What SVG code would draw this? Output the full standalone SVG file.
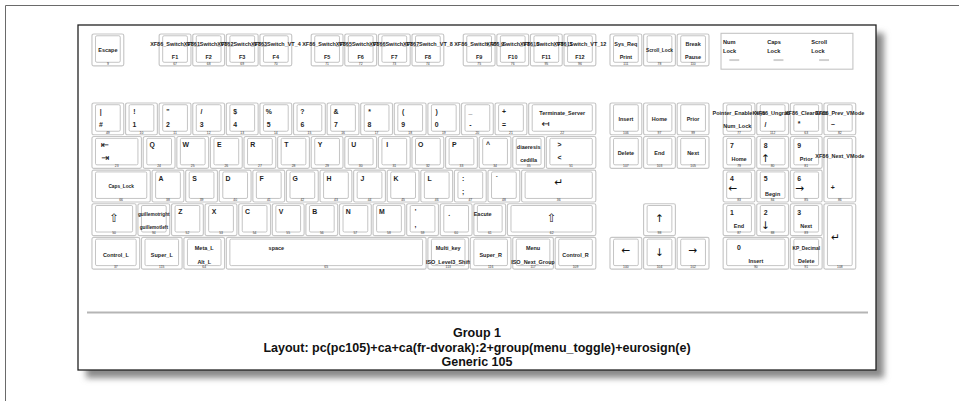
<svg xmlns="http://www.w3.org/2000/svg" width="959" height="401" viewBox="0 0 959 401">
<defs>
<style>
.o{fill:none;stroke:#c6c6c6;stroke-width:.65}
.i{fill:none;stroke:#b4b4b4;stroke-width:.45}
.lp{fill:none;stroke:#c2c2c2;stroke-width:.6}
.led{fill:#cfcfcf}
text{font-family:"Liberation Sans",Arial,sans-serif;font-weight:bold;fill:#1e1e1e}
.c{font-size:3.9px;text-anchor:middle}
.n{font-size:3.1px;text-anchor:middle}
.s{font-size:2.7px;text-anchor:middle}
.k{font-size:1.9px;text-anchor:middle;fill:#333;font-weight:normal}
.a{font-family:"DejaVu Sans",sans-serif;font-size:6px;font-weight:normal;text-anchor:middle;fill:#111}
.g{font-family:"DejaVu Sans",sans-serif;font-weight:normal;text-anchor:middle;fill:#111}
.l{font-size:3.2px}
.cap{font-size:12.5px;text-anchor:middle;fill:#111}
</style>
<filter id="sh" x="-5%" y="-5%" width="110%" height="110%"><feGaussianBlur stdDeviation="3"/></filter>
<g id="N"><rect class="o" width="18" height="18" rx="1"/><rect class="i" x="2" y="1" width="14" height="15" rx=".8"/></g>
<g id="BKSP"><rect class="o" width="38" height="18" rx="1"/><rect class="i" x="2" y="1" width="34" height="15" rx=".8"/></g>
<g id="TABK"><rect class="o" width="28" height="18" rx="1"/><rect class="i" x="2" y="1" width="24" height="15" rx=".8"/></g>
<g id="CAPS"><rect class="o" width="33" height="18" rx="1"/><rect class="i" x="2" y="1" width="29" height="15" rx=".8"/></g>
<g id="RTRN"><rect class="o" width="42" height="18" rx="1"/><rect class="i" x="2" y="1" width="38" height="15" rx=".8"/></g>
<g id="LFSH"><rect class="o" width="25" height="18" rx="1"/><rect class="i" x="2" y="1" width="21" height="15" rx=".8"/></g>
<g id="RTSH"><rect class="o" width="50" height="18" rx="1"/><rect class="i" x="2" y="1" width="46" height="15" rx=".8"/></g>
<g id="MODK"><rect class="o" width="27" height="18" rx="1"/><rect class="i" x="2" y="1" width="23" height="15" rx=".8"/></g>
<g id="SMOD"><rect class="o" width="23" height="18" rx="1"/><rect class="i" x="2" y="1" width="19" height="15" rx=".8"/></g>
<g id="SPCE"><rect class="o" width="113" height="18" rx="1"/><rect class="i" x="2" y="1" width="109" height="15" rx=".8"/></g>
<g id="KP0"><rect class="o" width="37" height="18" rx="1"/><rect class="i" x="2" y="1" width="33" height="15" rx=".8"/></g>
<g id="KPAD"><rect class="o" width="18" height="37" rx="1"/><rect class="i" x="2" y="1" width="14" height="34" rx=".8"/></g>
</defs>
<rect width="959" height="401" fill="#fff"/>
<path d="M5.5 401V5.5H959" fill="none" stroke="#6a6a6a" stroke-width="1"/>
<g id="frame">
<rect x="86" y="33" width="798" height="345" fill="#8a8a8a" filter="url(#sh)"/>
<rect x="78" y="25" width="798" height="345" fill="#fff" stroke="#222" stroke-width="1.3"/>
<line x1="87" y1="312.5" x2="868" y2="312.5" stroke="#b5b5b5" stroke-width="2"/>
</g>
<g id="keyboard" transform="translate(56.6 -59.7) scale(1.768)">
<g id="connectors"/>
<g id="k-ESC" transform="translate(20 53)"><use href="#N"/><text class="n" x="9" y="10.2">Escape</text><text class="k" x="9" y="17.3">9</text></g>
<g id="k-FK01" transform="translate(58 53)"><use href="#N"/><text class="n" x="9" y="6.8">XF86_Switch_VT_1</text><text class="n" x="9" y="14.3">F1</text><text class="k" x="9" y="17.3">67</text></g>
<g id="k-FK02" transform="translate(77 53)"><use href="#N"/><text class="n" x="9" y="6.8">XF86_Switch_VT_2</text><text class="n" x="9" y="14.3">F2</text><text class="k" x="9" y="17.3">68</text></g>
<g id="k-FK03" transform="translate(96 53)"><use href="#N"/><text class="n" x="9" y="6.8">XF86_Switch_VT_3</text><text class="n" x="9" y="14.3">F3</text><text class="k" x="9" y="17.3">69</text></g>
<g id="k-FK04" transform="translate(115 53)"><use href="#N"/><text class="n" x="9" y="6.8">XF86_Switch_VT_4</text><text class="n" x="9" y="14.3">F4</text><text class="k" x="9" y="17.3">70</text></g>
<g id="k-FK05" transform="translate(144 53)"><use href="#N"/><text class="n" x="9" y="6.8">XF86_Switch_VT_5</text><text class="n" x="9" y="14.3">F5</text><text class="k" x="9" y="17.3">71</text></g>
<g id="k-FK06" transform="translate(163 53)"><use href="#N"/><text class="n" x="9" y="6.8">XF86_Switch_VT_6</text><text class="n" x="9" y="14.3">F6</text><text class="k" x="9" y="17.3">72</text></g>
<g id="k-FK07" transform="translate(182 53)"><use href="#N"/><text class="n" x="9" y="6.8">XF86_Switch_VT_7</text><text class="n" x="9" y="14.3">F7</text><text class="k" x="9" y="17.3">73</text></g>
<g id="k-FK08" transform="translate(201 53)"><use href="#N"/><text class="n" x="9" y="6.8">XF86_Switch_VT_8</text><text class="n" x="9" y="14.3">F8</text><text class="k" x="9" y="17.3">74</text></g>
<g id="k-FK09" transform="translate(230 53)"><use href="#N"/><text class="n" x="9" y="6.8">XF86_Switch_VT_9</text><text class="n" x="9" y="14.3">F9</text><text class="k" x="9" y="17.3">75</text></g>
<g id="k-FK10" transform="translate(249 53)"><use href="#N"/><text class="n" x="9" y="6.8">XF86_Switch_VT_10</text><text class="n" x="9" y="14.3">F10</text><text class="k" x="9" y="17.3">76</text></g>
<g id="k-FK11" transform="translate(268 53)"><use href="#N"/><text class="n" x="9" y="6.8">XF86_Switch_VT_11</text><text class="n" x="9" y="14.3">F11</text><text class="k" x="9" y="17.3">95</text></g>
<g id="k-FK12" transform="translate(287 53)"><use href="#N"/><text class="n" x="9" y="6.8">XF86_Switch_VT_12</text><text class="n" x="9" y="14.3">F12</text><text class="k" x="9" y="17.3">96</text></g>
<g id="k-PRSC" transform="translate(313 53)"><use href="#N"/><text class="n" x="9" y="6.8">Sys_Req</text><text class="n" x="9" y="14.3">Print</text><text class="k" x="9" y="17.3">111</text></g>
<g id="k-SCLK" transform="translate(332 53)"><use href="#N"/><text class="s" x="9" y="10.2">Scroll_Lock</text><text class="k" x="9" y="17.3">78</text></g>
<g id="k-PAUS" transform="translate(351 53)"><use href="#N"/><text class="n" x="9" y="6.8">Break</text><text class="n" x="9" y="14.3">Pause</text><text class="k" x="9" y="17.3">110</text></g>
<g id="leds">
<rect class="lp" x="375.8" y="52.6" width="74.6" height="20.3"/>
<text class="l" x="376.9" y="58.6">Num</text><text class="l" x="376.9" y="63.8">Lock</text>
<text class="l" x="401.9" y="58.6">Caps</text><text class="l" x="401.9" y="63.8">Lock</text>
<text class="l" x="426.9" y="58.6">Scroll</text><text class="l" x="426.9" y="63.8">Lock</text>
<rect class="led" x="380.5" y="67.2" width="5.6" height="1.1"/>
<rect class="led" x="405.5" y="67.2" width="5.6" height="1.1"/>
<rect class="led" x="431.3" y="67.2" width="5.6" height="1.1"/>
</g>
<g id="k-TLDE" transform="translate(20 92)"><use href="#N"/><text class="c" x="5" y="6">|</text><text class="c" x="5" y="13.4">#</text><text class="k" x="9" y="17.3">49</text></g>
<g id="k-AE01" transform="translate(39 92)"><use href="#N"/><text class="c" x="5" y="6">!</text><text class="c" x="5" y="13.4">1</text><text class="k" x="9" y="17.3">10</text></g>
<g id="k-AE02" transform="translate(58 92)"><use href="#N"/><text class="c" x="5" y="6">"</text><text class="c" x="5" y="13.4">2</text><text class="k" x="9" y="17.3">11</text></g>
<g id="k-AE03" transform="translate(77 92)"><use href="#N"/><text class="c" x="5" y="6">/</text><text class="c" x="5" y="13.4">3</text><text class="k" x="9" y="17.3">12</text></g>
<g id="k-AE04" transform="translate(96 92)"><use href="#N"/><text class="c" x="5" y="6">$</text><text class="c" x="5" y="13.4">4</text><text class="k" x="9" y="17.3">13</text></g>
<g id="k-AE05" transform="translate(115 92)"><use href="#N"/><text class="c" x="5" y="6">%</text><text class="c" x="5" y="13.4">5</text><text class="k" x="9" y="17.3">14</text></g>
<g id="k-AE06" transform="translate(134 92)"><use href="#N"/><text class="c" x="5" y="6">?</text><text class="c" x="5" y="13.4">6</text><text class="k" x="9" y="17.3">15</text></g>
<g id="k-AE07" transform="translate(153 92)"><use href="#N"/><text class="c" x="5" y="6">&amp;</text><text class="c" x="5" y="13.4">7</text><text class="k" x="9" y="17.3">16</text></g>
<g id="k-AE08" transform="translate(172 92)"><use href="#N"/><text class="c" x="5" y="6">*</text><text class="c" x="5" y="13.4">8</text><text class="k" x="9" y="17.3">17</text></g>
<g id="k-AE09" transform="translate(191 92)"><use href="#N"/><text class="c" x="5" y="6">(</text><text class="c" x="5" y="13.4">9</text><text class="k" x="9" y="17.3">18</text></g>
<g id="k-AE10" transform="translate(210 92)"><use href="#N"/><text class="c" x="5" y="6">)</text><text class="c" x="5" y="13.4">0</text><text class="k" x="9" y="17.3">19</text></g>
<g id="k-AE11" transform="translate(229 92)"><use href="#N"/><text class="c" x="5" y="6">_</text><text class="c" x="5" y="13.4">-</text><text class="k" x="9" y="17.3">20</text></g>
<g id="k-AE12" transform="translate(248 92)"><use href="#N"/><text class="c" x="5" y="6">+</text><text class="c" x="5" y="13.4">=</text><text class="k" x="9" y="17.3">21</text></g>
<g id="k-BKSP" transform="translate(267 92)"><use href="#BKSP"/><text class="n" x="19" y="6.8">Terminate_Server</text><text class="g" font-size="5.5" x="9.5" y="13.6">↤</text><text class="k" x="19" y="17.3">22</text></g>
<g id="k-TAB" transform="translate(20 111)"><use href="#TABK"/><text class="g" font-size="5.5" x="7.4" y="6.2">⇤</text><text class="g" font-size="5.5" x="7.4" y="13.6">⇥</text><text class="k" x="14" y="17.3">23</text></g>
<g id="k-AD01" transform="translate(49 111)"><use href="#N"/><text class="c" x="5" y="6">Q</text><text class="k" x="9" y="17.3">24</text></g>
<g id="k-AD02" transform="translate(68 111)"><use href="#N"/><text class="c" x="5" y="6">W</text><text class="k" x="9" y="17.3">25</text></g>
<g id="k-AD03" transform="translate(87 111)"><use href="#N"/><text class="c" x="5" y="6">E</text><text class="k" x="9" y="17.3">26</text></g>
<g id="k-AD04" transform="translate(106 111)"><use href="#N"/><text class="c" x="5" y="6">R</text><text class="k" x="9" y="17.3">27</text></g>
<g id="k-AD05" transform="translate(125 111)"><use href="#N"/><text class="c" x="5" y="6">T</text><text class="k" x="9" y="17.3">28</text></g>
<g id="k-AD06" transform="translate(144 111)"><use href="#N"/><text class="c" x="5" y="6">Y</text><text class="k" x="9" y="17.3">29</text></g>
<g id="k-AD07" transform="translate(163 111)"><use href="#N"/><text class="c" x="5" y="6">U</text><text class="k" x="9" y="17.3">30</text></g>
<g id="k-AD08" transform="translate(182 111)"><use href="#N"/><text class="c" x="5" y="6">I</text><text class="k" x="9" y="17.3">31</text></g>
<g id="k-AD09" transform="translate(201 111)"><use href="#N"/><text class="c" x="5" y="6">O</text><text class="k" x="9" y="17.3">32</text></g>
<g id="k-AD10" transform="translate(220 111)"><use href="#N"/><text class="c" x="5" y="6">P</text><text class="k" x="9" y="17.3">33</text></g>
<g id="k-AD11" transform="translate(239 111)"><use href="#N"/><text class="c" x="5" y="6">^</text><text class="k" x="9" y="17.3">34</text></g>
<g id="k-AD12" transform="translate(258 111)"><use href="#N"/><text class="n" x="9" y="6.8">diaeresis</text><text class="n" x="9" y="14.3">cedilla</text><text class="k" x="9" y="17.3">35</text></g>
<g id="k-BKSL" transform="translate(277 111)"><use href="#TABK"/><text class="c" x="7.4" y="6">&gt;</text><text class="c" x="7.4" y="13.4">&lt;</text><text class="k" x="14" y="17.3">51</text></g>
<g id="k-CAPS" transform="translate(20 130)"><use href="#CAPS"/><text class="s" x="16.5" y="10">Caps_Lock</text><text class="k" x="16.5" y="17.3">66</text></g>
<g id="k-AC01" transform="translate(54 130)"><use href="#N"/><text class="c" x="5" y="6">A</text><text class="k" x="9" y="17.3">38</text></g>
<g id="k-AC02" transform="translate(73 130)"><use href="#N"/><text class="c" x="5" y="6">S</text><text class="k" x="9" y="17.3">39</text></g>
<g id="k-AC03" transform="translate(92 130)"><use href="#N"/><text class="c" x="5" y="6">D</text><text class="k" x="9" y="17.3">40</text></g>
<g id="k-AC04" transform="translate(111 130)"><use href="#N"/><text class="c" x="5" y="6">F</text><text class="k" x="9" y="17.3">41</text></g>
<g id="k-AC05" transform="translate(130 130)"><use href="#N"/><text class="c" x="5" y="6">G</text><text class="k" x="9" y="17.3">42</text></g>
<g id="k-AC06" transform="translate(149 130)"><use href="#N"/><text class="c" x="5" y="6">H</text><text class="k" x="9" y="17.3">43</text></g>
<g id="k-AC07" transform="translate(168 130)"><use href="#N"/><text class="c" x="5" y="6">J</text><text class="k" x="9" y="17.3">44</text></g>
<g id="k-AC08" transform="translate(187 130)"><use href="#N"/><text class="c" x="5" y="6">K</text><text class="k" x="9" y="17.3">45</text></g>
<g id="k-AC09" transform="translate(206 130)"><use href="#N"/><text class="c" x="5" y="6">L</text><text class="k" x="9" y="17.3">46</text></g>
<g id="k-AC10" transform="translate(225 130)"><use href="#N"/><text class="c" x="5" y="6">:</text><text class="c" x="5" y="13.4">;</text><text class="k" x="9" y="17.3">47</text></g>
<g id="k-AC11" transform="translate(244 130)"><use href="#N"/><text class="c" x="5" y="6">`</text><text class="k" x="9" y="17.3">48</text></g>
<g id="k-RTRN" transform="translate(263 130)"><use href="#RTRN"/><text class="g" font-size="6" x="21" y="9.2">↵</text><text class="k" x="21" y="17.3">36</text></g>
<g id="k-LFSH" transform="translate(20 149)"><use href="#LFSH"/><text class="g" font-size="6.5" x="12.5" y="10.4">⇧</text><text class="k" x="12.5" y="17.3">50</text></g>
<g id="k-LSGT" transform="translate(46 149)"><use href="#N"/><text class="s" x="9" y="6.8">guillemotright</text><text class="s" x="9" y="14.3">guillemotleft</text><text class="k" x="9" y="17.3">94</text></g>
<g id="k-AB01" transform="translate(65 149)"><use href="#N"/><text class="c" x="5" y="6">Z</text><text class="k" x="9" y="17.3">52</text></g>
<g id="k-AB02" transform="translate(84 149)"><use href="#N"/><text class="c" x="5" y="6">X</text><text class="k" x="9" y="17.3">53</text></g>
<g id="k-AB03" transform="translate(103 149)"><use href="#N"/><text class="c" x="5" y="6">C</text><text class="k" x="9" y="17.3">54</text></g>
<g id="k-AB04" transform="translate(122 149)"><use href="#N"/><text class="c" x="5" y="6">V</text><text class="k" x="9" y="17.3">55</text></g>
<g id="k-AB05" transform="translate(141 149)"><use href="#N"/><text class="c" x="5" y="6">B</text><text class="k" x="9" y="17.3">56</text></g>
<g id="k-AB06" transform="translate(160 149)"><use href="#N"/><text class="c" x="5" y="6">N</text><text class="k" x="9" y="17.3">57</text></g>
<g id="k-AB07" transform="translate(179 149)"><use href="#N"/><text class="c" x="5" y="6">M</text><text class="k" x="9" y="17.3">58</text></g>
<g id="k-AB08" transform="translate(198 149)"><use href="#N"/><text class="c" x="5" y="6">'</text><text class="c" x="5" y="13.4">,</text><text class="k" x="9" y="17.3">59</text></g>
<g id="k-AB09" transform="translate(217 149)"><use href="#N"/><text class="c" x="5" y="7">.</text><text class="k" x="9" y="17.3">60</text></g>
<g id="k-AB10" transform="translate(236 149)"><use href="#N"/><text class="n" x="5" y="6.8">Eacute</text><text class="k" x="9" y="17.3">61</text></g>
<g id="k-RTSH" transform="translate(255 149)"><use href="#RTSH"/><text class="g" font-size="6.5" x="25" y="10.4">⇧</text><text class="k" x="25" y="17.3">62</text></g>
<g id="k-LCTL" transform="translate(20 168)"><use href="#MODK"/><text class="n" x="13.5" y="11">Control_L</text><text class="k" x="13.5" y="17.3">37</text></g>
<g id="k-LWIN" transform="translate(48 168)"><use href="#SMOD"/><text class="n" x="11.5" y="11">Super_L</text><text class="k" x="11.5" y="17.3">115</text></g>
<g id="k-LALT" transform="translate(72 168)"><use href="#SMOD"/><text class="n" x="11.5" y="7.2">Meta_L</text><text class="n" x="11.5" y="15">Alt_L</text><text class="k" x="11.5" y="17.3">64</text></g>
<g id="k-SPCE" transform="translate(96 168)"><use href="#SPCE"/><text class="n" x="28.3" y="7.2">space</text><text class="k" x="56.5" y="17.3">65</text></g>
<g id="k-RALT" transform="translate(210 168)"><use href="#SMOD"/><text class="n" x="11.5" y="7.2">Multi_key</text><text class="n" x="11.5" y="15">ISO_Level3_Shift</text><text class="k" x="11.5" y="17.3">113</text></g>
<g id="k-RWIN" transform="translate(234 168)"><use href="#SMOD"/><text class="n" x="11.5" y="11">Super_R</text><text class="k" x="11.5" y="17.3">116</text></g>
<g id="k-MENU" transform="translate(258 168)"><use href="#SMOD"/><text class="n" x="11.5" y="7.2">Menu</text><text class="n" x="11.5" y="15">ISO_Next_Group</text><text class="k" x="11.5" y="17.3">117</text></g>
<g id="k-RCTL" transform="translate(282 168)"><use href="#SMOD"/><text class="n" x="11.5" y="11">Control_R</text><text class="k" x="11.5" y="17.3">109</text></g>
<g id="k-INS" transform="translate(313 92)"><use href="#N"/><text class="n" x="9" y="10.2">Insert</text><text class="k" x="9" y="17.3">106</text></g>
<g id="k-HOME" transform="translate(332 92)"><use href="#N"/><text class="n" x="9" y="10.2">Home</text><text class="k" x="9" y="17.3">97</text></g>
<g id="k-PGUP" transform="translate(351 92)"><use href="#N"/><text class="n" x="9" y="10.2">Prior</text><text class="k" x="9" y="17.3">99</text></g>
<g id="k-DELE" transform="translate(313 111)"><use href="#N"/><text class="n" x="9" y="10.2">Delete</text><text class="k" x="9" y="17.3">107</text></g>
<g id="k-END" transform="translate(332 111)"><use href="#N"/><text class="n" x="9" y="10.2">End</text><text class="k" x="9" y="17.3">103</text></g>
<g id="k-PGDN" transform="translate(351 111)"><use href="#N"/><text class="n" x="9" y="10.2">Next</text><text class="k" x="9" y="17.3">105</text></g>
<g id="k-UP" transform="translate(332 149)"><use href="#N"/><text class="a" x="9" y="10.4">↑</text><text class="k" x="9" y="17.3">98</text></g>
<g id="k-LEFT" transform="translate(313 168)"><use href="#N"/><text class="a" x="9" y="9.4">←</text><text class="k" x="9" y="17.3">100</text></g>
<g id="k-DOWN" transform="translate(332 168)"><use href="#N"/><text class="a" x="9" y="10.4">↓</text><text class="k" x="9" y="17.3">104</text></g>
<g id="k-RGHT" transform="translate(351 168)"><use href="#N"/><text class="a" x="9" y="9.4">→</text><text class="k" x="9" y="17.3">102</text></g>
<g id="k-NMLK" transform="translate(377 92)"><use href="#N"/><text class="n" x="9" y="6.8">Pointer_EnableKeys</text><text class="n" x="8" y="14.3">Num_Lock</text><text class="k" x="9" y="17.3">77</text></g>
<g id="k-KPDV" transform="translate(396 92)"><use href="#N"/><text class="n" x="9" y="6.8">XF86_Ungrab</text><text class="c" x="5" y="13.6">/</text><text class="k" x="9" y="17.3">112</text></g>
<g id="k-KPMU" transform="translate(415 92)"><use href="#N"/><text class="n" x="9" y="6.8">XF86_ClearGrab</text><text class="c" x="5" y="13.2">*</text><text class="k" x="9" y="17.3">63</text></g>
<g id="k-KPSU" transform="translate(434 92)"><use href="#N"/><text class="n" x="9" y="6.8">XF86_Prev_VMode</text><text class="c" x="5" y="13.6">−</text><text class="k" x="9" y="17.3">82</text></g>
<g id="k-KP7" transform="translate(377 111)"><use href="#N"/><text class="c" x="5" y="6.2">7</text><text class="n" x="9" y="13.8">Home</text><text class="k" x="9" y="17.3">79</text></g>
<g id="k-KP8" transform="translate(396 111)"><use href="#N"/><text class="c" x="5" y="6.2">8</text><text class="a" x="5" y="14.5">↑</text><text class="k" x="9" y="17.3">80</text></g>
<g id="k-KP9" transform="translate(415 111)"><use href="#N"/><text class="c" x="5" y="6.2">9</text><text class="n" x="9" y="13.8">Prior</text><text class="k" x="9" y="17.3">81</text></g>
<g id="k-KPAD" transform="translate(434 111)"><use href="#KPAD"/><text class="n" x="9" y="12.4">XF86_Next_VMode</text><text class="c" x="5" y="30.2">+</text><text class="k" x="9" y="36.3">86</text></g>
<g id="k-KP4" transform="translate(377 130)"><use href="#N"/><text class="c" x="5" y="6.2">4</text><text class="a" x="5.5" y="12.4">←</text><text class="k" x="9" y="17.3">83</text></g>
<g id="k-KP5" transform="translate(396 130)"><use href="#N"/><text class="c" x="5" y="6.2">5</text><text class="n" x="9" y="14.5">Begin</text><text class="k" x="9" y="17.3">84</text></g>
<g id="k-KP6" transform="translate(415 130)"><use href="#N"/><text class="c" x="5" y="6.2">6</text><text class="a" x="5.5" y="12.4">→</text><text class="k" x="9" y="17.3">85</text></g>
<g id="k-KP1" transform="translate(377 149)"><use href="#N"/><text class="c" x="5" y="6.6">1</text><text class="n" x="9" y="14">End</text><text class="k" x="9" y="17.3">87</text></g>
<g id="k-KP2" transform="translate(396 149)"><use href="#N"/><text class="c" x="5" y="6.6">2</text><text class="a" x="5" y="14.5">↓</text><text class="k" x="9" y="17.3">88</text></g>
<g id="k-KP3" transform="translate(415 149)"><use href="#N"/><text class="c" x="5" y="6.6">3</text><text class="n" x="9" y="14">Next</text><text class="k" x="9" y="17.3">89</text></g>
<g id="k-KPEN" transform="translate(434 149)"><use href="#KPAD"/><text class="g" font-size="6" x="6.5" y="21">↵</text><text class="k" x="9" y="36.3">108</text></g>
<g id="k-KP0" transform="translate(377 168)"><use href="#KP0"/><text class="c" x="9" y="7.2">0</text><text class="n" x="18.5" y="14.7">Insert</text><text class="k" x="18.5" y="17.3">90</text></g>
<g id="k-KPDL" transform="translate(415 168)"><use href="#N"/><text class="s" x="9" y="7.2">KP_Decimal</text><text class="n" x="9" y="14.7">Delete</text><text class="k" x="9" y="17.3">91</text></g>
</g>
<g id="caption">
<text class="cap" x="477" y="337">Group 1</text>
<text class="cap" x="477" y="351.5">Layout: pc(pc105)+ca+ca(fr-dvorak):2+group(menu_toggle)+eurosign(e)</text>
<text class="cap" x="477" y="366">Generic 105</text>
</g>
</svg>
